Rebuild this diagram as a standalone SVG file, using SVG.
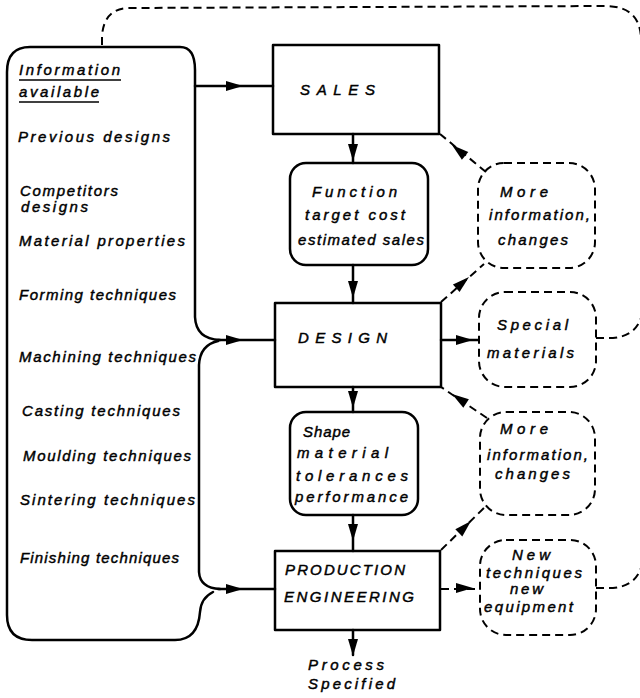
<svg xmlns="http://www.w3.org/2000/svg" xmlns:xlink="http://www.w3.org/1999/xlink" width="640" height="698" viewBox="0 0 640 698">
<style>
.s{fill:none;stroke:#000;stroke-width:2.5;stroke-linejoin:round;stroke-linecap:round}
.d{fill:none;stroke:#000;stroke-width:2;stroke-dasharray:8 5}
.t{font-family:"Liberation Sans",Arial,sans-serif;font-style:italic;font-size:15px;fill:#000;stroke:#000;stroke-width:0.45}
</style>
<defs>
<path id="ah" d="M0,0 L-17,-5 L-17,5 Z" fill="#000"/>
</defs>
<rect width="640" height="698" fill="#fff"/>

<g id="connectors">
<path class="s" d="M195,86 H273"/>
<path class="s" d="M218,340 H275"/>
<path class="s" d="M218,589 H275"/>
<path class="s" d="M353,134 V163"/>
<path class="s" d="M353,265 V303"/>
<path class="s" d="M353,387 V412"/>
<path class="s" d="M353,515 V551"/>
<path class="s" d="M353,630 V655"/>
<path class="s" d="M441,340 H478"/>
<path class="d" d="M441,589 H480"/>
<path class="d" d="M486,172 L440,134"/>
<path class="d" d="M441,302 L484,264"/>
<path class="d" d="M487,418 L441,387"/>
<path class="d" d="M441,550 L485,507"/>
<path class="d" d="M102,45 V36 Q104,8 130,8 L605,6 Q641,6 641,40 V690"/>
<path class="d" d="M596,338 H613 Q635,336 641,318"/>
<path class="d" d="M596,588 H613 Q635,586 641,568"/>
<use xlink:href="#ah" transform="translate(243,86)"/>
<use xlink:href="#ah" transform="translate(243,340)"/>
<use xlink:href="#ah" transform="translate(243,589)"/>
<use xlink:href="#ah" transform="translate(353,161) rotate(90)"/>
<use xlink:href="#ah" transform="translate(353,298) rotate(90)"/>
<use xlink:href="#ah" transform="translate(353,408) rotate(90)"/>
<use xlink:href="#ah" transform="translate(353,541) rotate(90)"/>
<use xlink:href="#ah" transform="translate(353,656) rotate(90)"/>
<use xlink:href="#ah" transform="translate(473,340)"/>
<use xlink:href="#ah" transform="translate(473,588)"/>
<use xlink:href="#ah" transform="translate(452,145) rotate(219.6)"/>
<use xlink:href="#ah" transform="translate(469,277) rotate(-41.5)"/>
<use xlink:href="#ah" transform="translate(452,394) rotate(214)"/>
<use xlink:href="#ah" transform="translate(471,521) rotate(-44.3)"/>
</g>

<g id="info">
<path class="s" d="M220,340 Q196,339 195,317 V70 Q195,47 180,47 H30 Q7,47 7,72 V615 Q7,640 32,640 H175 Q198,640 200,612 Q201,598 213,592 M218,341 Q200,345 199,365 V572 Q200,588 220,589"/>
<text class="t" x="19" y="75" textLength="101" lengthAdjust="spacing">Information</text>
<line x1="19" y1="80" x2="121" y2="80" stroke="#000" stroke-width="1.5"/>
<text class="t" x="19" y="97" textLength="80" lengthAdjust="spacing">available</text>
<line x1="19" y1="102" x2="99" y2="102" stroke="#000" stroke-width="1.5"/>
<text class="t" x="18" y="142" textLength="152" lengthAdjust="spacing">Previous designs</text>
<text class="t" x="20" y="196" textLength="98" lengthAdjust="spacing">Competitors</text>
<text class="t" x="21" y="212" textLength="67" lengthAdjust="spacing">designs</text>
<text class="t" x="19" y="246" textLength="166" lengthAdjust="spacing">Material properties</text>
<text class="t" x="19" y="300" textLength="157" lengthAdjust="spacing">Forming techniques</text>
<text class="t" x="19" y="362" textLength="177" lengthAdjust="spacing">Machining techniques</text>
<text class="t" x="22" y="416" textLength="158" lengthAdjust="spacing">Casting techniques</text>
<text class="t" x="23" y="461" textLength="168" lengthAdjust="spacing">Moulding techniques</text>
<text class="t" x="20" y="505" textLength="175" lengthAdjust="spacing">Sintering techniques</text>
<text class="t" x="20" y="563" textLength="159" lengthAdjust="spacing">Finishing techniques</text>
</g>

<g id="sales">
<rect class="s" x="273" y="45" width="166" height="89"/>
<text class="t" x="300" y="95" textLength="75" lengthAdjust="spacing">SALES</text>
</g>

<g id="function">
<rect class="s" x="290" y="163" width="138" height="102" rx="16"/>
<text class="t" x="312" y="197" textLength="85" lengthAdjust="spacing">Function</text>
<text class="t" x="305" y="220" textLength="100" lengthAdjust="spacing">target cost</text>
<text class="t" x="298" y="245" textLength="126" lengthAdjust="spacing">estimated sales</text>
</g>

<g id="design">
<rect class="s" x="275" y="303" width="166" height="84"/>
<text class="t" x="298" y="343" textLength="89" lengthAdjust="spacing">DESIGN</text>
</g>

<g id="shape">
<rect class="s" x="290" y="412" width="128" height="103" rx="16"/>
<text class="t" x="303" y="437" textLength="47" lengthAdjust="spacing">Shape</text>
<text class="t" x="297" y="458" textLength="91" lengthAdjust="spacing">material</text>
<text class="t" x="296" y="481" textLength="112" lengthAdjust="spacing">tolerances</text>
<text class="t" x="295" y="502" textLength="113" lengthAdjust="spacing">performance</text>
</g>

<g id="production">
<rect class="s" x="275" y="551" width="165" height="79"/>
<text class="t" x="285" y="575" textLength="120" lengthAdjust="spacing">PRODUCTION</text>
<text class="t" x="284" y="602" textLength="130" lengthAdjust="spacing">ENGINEERING</text>
</g>

<g id="process">
<text class="t" x="308" y="670" textLength="76" lengthAdjust="spacing">Process</text>
<text class="t" x="308" y="689" textLength="87" lengthAdjust="spacing">Specified</text>
</g>

<g id="more1">
<rect class="d" x="478" y="163" width="117" height="105" rx="26"/>
<text class="t" x="500" y="197" textLength="48" lengthAdjust="spacing">More</text>
<text class="t" x="489" y="220" textLength="101" lengthAdjust="spacing">information,</text>
<text class="t" x="498" y="245" textLength="70" lengthAdjust="spacing">changes</text>
</g>

<g id="special">
<rect class="d" x="479" y="292" width="117" height="95" rx="26"/>
<text class="t" x="497" y="330" textLength="71" lengthAdjust="spacing">Special</text>
<text class="t" x="487" y="358" textLength="87" lengthAdjust="spacing">materials</text>
</g>

<g id="more2">
<rect class="d" x="480" y="412" width="115" height="103" rx="26"/>
<text class="t" x="500" y="434" textLength="48" lengthAdjust="spacing">More</text>
<text class="t" x="487" y="460" textLength="101" lengthAdjust="spacing">information,</text>
<text class="t" x="495" y="479" textLength="75" lengthAdjust="spacing">changes</text>
</g>

<g id="newtech">
<rect class="d" x="480" y="540" width="116" height="95" rx="26"/>
<text class="t" x="512" y="560" textLength="38" lengthAdjust="spacing">New</text>
<text class="t" x="486" y="578" textLength="96" lengthAdjust="spacing">techniques</text>
<text class="t" x="510" y="594" textLength="33" lengthAdjust="spacing">new</text>
<text class="t" x="484" y="612" textLength="89" lengthAdjust="spacing">equipment</text>
</g>
</svg>
